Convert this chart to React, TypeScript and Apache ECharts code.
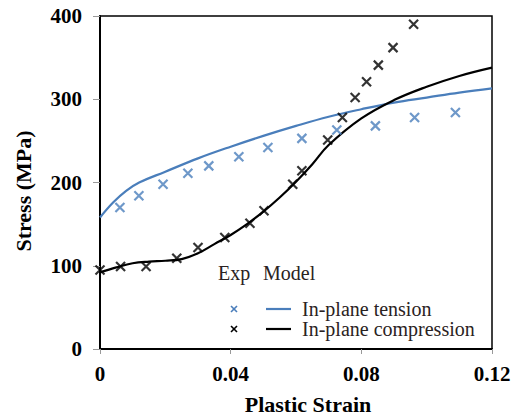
import React, { useEffect, useRef } from "react";
import * as echarts from "echarts";

const xTicks = [0, 0.04, 0.08, 0.12];
const yTicks = [0, 100, 200, 300, 400];

const tensionExpX = [0.0061, 0.0119, 0.0193, 0.0269, 0.0333, 0.0425, 0.0514, 0.0618, 0.0725, 0.0843, 0.0963, 0.1088];
const tensionExpY = [170, 184, 198, 211, 220, 231, 242, 253, 263, 268, 278, 284];

const compExpX = [0, 0.0063, 0.0141, 0.0235, 0.03, 0.0382, 0.0459, 0.0502, 0.059, 0.0618, 0.0697, 0.0742, 0.0781, 0.0816, 0.0852, 0.0897, 0.096];
const compExpY = [95, 99, 99, 109, 122, 134, 151, 166, 198, 214, 251, 278, 302, 321, 341, 362, 390];

const tensionModelX = [0, 0.004, 0.008, 0.012, 0.02, 0.03, 0.04, 0.05, 0.06, 0.07, 0.08, 0.09, 0.1, 0.11, 0.12];
const tensionModelY = [158, 176, 190, 200, 213, 229, 243, 256, 268, 279, 288, 296, 302, 308, 313];

const compModelX = [0, 0.005, 0.01, 0.015, 0.02, 0.025, 0.03, 0.035, 0.04, 0.045, 0.05, 0.055, 0.06, 0.065, 0.07, 0.08, 0.09, 0.1, 0.11, 0.12];
const compModelY = [92, 98, 103, 105, 106, 108, 115, 126, 137, 150, 165, 182, 201, 222, 245, 277, 299, 315, 328, 338];

const xTitle = "Plastic Strain";
const yTitle = "Stress (MPa)";
const legendHeader = ["Exp", "Model"];
const legendNames = ["In-plane tension", "In-plane compression"];

const BLUE = "#4a7ebb";
const BLACK = "#000000";
const CROSS = "path://M0,0L10,10M10,0L0,10";
const SERIF = "Liberation Serif";

const zip = (xs: number[], ys: number[]) => xs.map((x, i) => [x, ys[i]]);

export default function App() {
  const ref = useRef<HTMLDivElement>(null);
  useEffect(() => {
    if (!ref.current) return;
    const chart = echarts.init(ref.current, null, { renderer: "svg" });
    const tickFont = { fontFamily: SERIF, fontWeight: "bold" as const, fontSize: 21, color: "#000" };
    const legendText = (text: string, x: number, y: number) => ({
      type: "text",
      x,
      y,
      style: { text, fontFamily: SERIF, fontSize: 20, fill: "#2a2222", textVerticalAlign: "middle" },
    });
    const cross = (cx: number, cy: number, color: string) => [
      { type: "line", shape: { x1: cx - 3, y1: cy - 3, x2: cx + 3, y2: cy + 3 }, style: { stroke: color, lineWidth: 1.6 } },
      { type: "line", shape: { x1: cx + 3, y1: cy - 3, x2: cx - 3, y2: cy + 3 }, style: { stroke: color, lineWidth: 1.6 } },
    ];
    chart.setOption({
      animation: false,
      backgroundColor: "#fff",
      grid: { left: 100, right: 22, top: 16, bottom: 67, show: true, borderColor: "#000", borderWidth: 1.5, backgroundColor: "transparent" },
      xAxis: {
        type: "value",
        min: xTicks[0],
        max: xTicks[xTicks.length - 1],
        interval: 0.04,
        axisLine: { show: true, lineStyle: { color: "#000", width: 2 } },
        axisTick: { show: true, length: 5, lineStyle: { color: "#999", width: 1 } },
        axisLabel: { ...tickFont, margin: 14, formatter: (v: number) => (v === 0 ? "0" : v.toFixed(2)) },
        splitLine: { show: false },
      },
      yAxis: {
        type: "value",
        min: yTicks[0],
        max: yTicks[yTicks.length - 1],
        interval: 100,
        axisLine: { show: true, lineStyle: { color: "#000", width: 2 } },
        axisTick: { show: true, length: 7, lineStyle: { color: "#999", width: 1 } },
        axisLabel: { ...tickFont, margin: 18 },
        splitLine: { show: false },
      },
      series: [
        {
          type: "line",
          name: "In-plane tension model",
          data: zip(tensionModelX, tensionModelY),
          smooth: 0.4,
          showSymbol: false,
          lineStyle: { color: BLUE, width: 2.2 },
          z: 2,
        },
        {
          type: "line",
          name: "In-plane compression model",
          data: zip(compModelX, compModelY),
          smooth: 0.4,
          showSymbol: false,
          lineStyle: { color: BLACK, width: 2.2 },
          z: 2,
        },
        {
          type: "scatter",
          name: "In-plane tension exp",
          data: zip(tensionExpX, tensionExpY),
          symbol: CROSS,
          symbolSize: 9,
          itemStyle: { color: "transparent", borderColor: BLUE, borderWidth: 2.2 },
          z: 3,
        },
        {
          type: "scatter",
          name: "In-plane compression exp",
          data: zip(compExpX, compExpY),
          symbol: CROSS,
          symbolSize: 9,
          itemStyle: { color: "transparent", borderColor: BLACK, borderWidth: 2.2 },
          z: 3,
        },
      ],
      graphic: [
        {
          type: "text",
          x: 308,
          y: 404,
          style: { text: xTitle, fontFamily: SERIF, fontWeight: "bold", fontSize: 22, fill: "#000", textAlign: "center", textVerticalAlign: "middle" },
        },
        {
          type: "text",
          x: 23,
          y: 191,
          rotation: Math.PI / 2,
          style: { text: yTitle, fontFamily: SERIF, fontWeight: "bold", fontSize: 22, fill: "#000", textAlign: "center", textVerticalAlign: "middle" },
        },
        legendText(legendHeader[0], 218, 273),
        legendText(legendHeader[1], 263, 273),
        ...cross(234, 309, BLUE),
        { type: "line", shape: { x1: 266, y1: 309, x2: 291, y2: 309 }, style: { stroke: BLUE, lineWidth: 2.2 } },
        legendText(legendNames[0], 302, 309),
        ...cross(234, 329, BLACK),
        { type: "line", shape: { x1: 266, y1: 329, x2: 291, y2: 329 }, style: { stroke: BLACK, lineWidth: 2.2 } },
        legendText(legendNames[1], 302, 329),
      ],
    });
    return () => chart.dispose();
  }, []);
  return <div ref={ref} style={{ width: 514, height: 416, position: "absolute", left: 0, top: 0 }} />;
}
